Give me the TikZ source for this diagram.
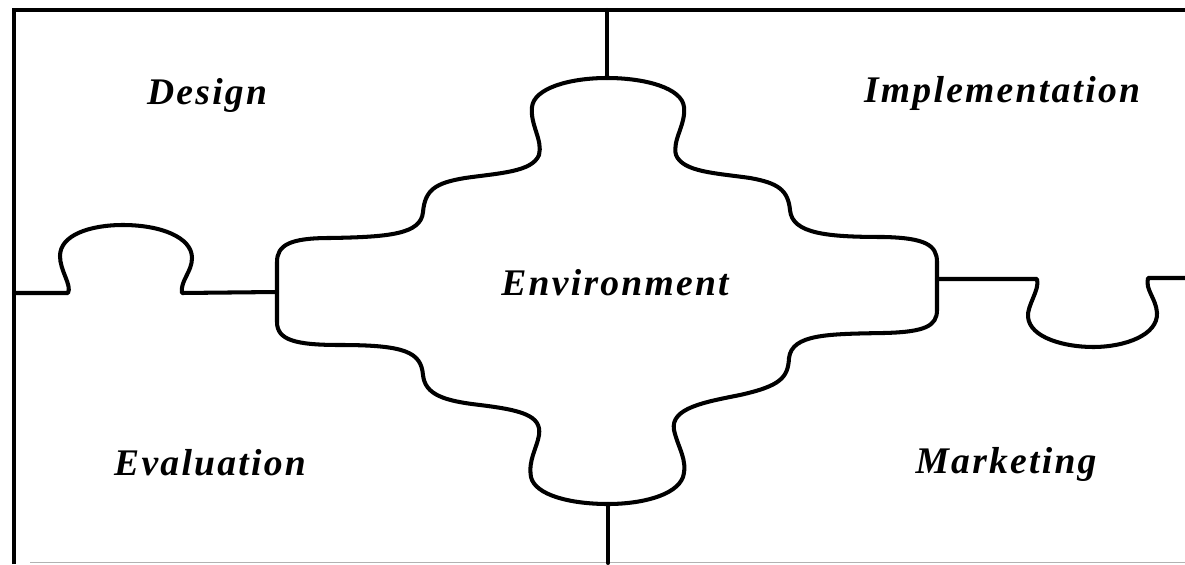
\documentclass[tikz,border=0pt]{standalone}
\usepackage{fontspec}
\setmainfont{Liberation Serif}
\newfontfamily\puzzlefont[LetterSpace=6]{Liberation Serif}
\begin{document}
\begin{tikzpicture}[x=0.02cm,y=-0.02cm,
  edge/.style={line width=2.3pt, line join=round, line cap=round},
  frame/.style={line width=2.5pt},
  word/.style={font=\puzzlefont\bfseries\itshape\fontsize{21.4}{24}\selectfont, anchor=base, inner sep=0pt}]
\useasboundingbox (0,0) rectangle (1185,564);
% frame
\draw[frame] (14,564) -- (14,10) -- (1185,10);
\draw[gray!60, line width=0.8pt] (30,562.5) -- (1185,562.5);
% middle verticals
\coordinate (topmid) at (607,10);
\coordinate (envtop) at (607,78);
\coordinate (botmid) at (608,563);
\coordinate (envbot) at (608,504);
\draw[edge] (topmid) -- (envtop);
\draw[edge] (envbot) -- (botmid);
% left piece boundary with knob
\coordinate (lstart) at (14,293);
\coordinate (envleft) at (277,292);
\draw[edge] (lstart) -- (68,293)
  .. controls (72,285) and (60,271) .. (60,256)
  .. controls (60,235) and (90,225) .. (123,225)
  .. controls (160,225) and (192,237) .. (192,258)
  .. controls (192,272) and (180,281) .. (182,293) -- (envleft);
% right piece boundary with knob
\coordinate (envright) at (937,279);
\coordinate (rend) at (1185,278);
\draw[edge] (envright) -- (1037,279)
  .. controls (1040,290) and (1027,305) .. (1028,317)
  .. controls (1030,338) and (1065,347) .. (1093,347)
  .. controls (1125,347) and (1158,335) .. (1157,313)
  .. controls (1156,298) and (1145,290) .. (1148,278) -- (rend);
% environment piece
\draw[edge] (277,292) -- (277,262)
  .. controls (277,245) and (290,238) .. (330,238)
  .. controls (390,237) and (421,234) .. (423,212)
  .. controls (425,190) and (435,183) .. (465,178)
  .. controls (500,173) and (532,172) .. (539,155)
  .. controls (543,140) and (530,125) .. (532,107)
  .. controls (534,88) and (570,78) .. (607,78)
  .. controls (645,78) and (682,88) .. (684,107)
  .. controls (686,125) and (672,140) .. (676,155)
  .. controls (683,172) and (715,173) .. (750,178)
  .. controls (778,183) and (788,190) .. (790,210)
  .. controls (792,234) and (828,237) .. (884,237)
  .. controls (925,238) and (937,245) .. (937,262)
  -- (937,310)
  .. controls (937,326) and (925,332) .. (884,333)
  .. controls (828,334) and (792,334) .. (789,358)
  .. controls (788,378) and (780,386) .. (740,395)
  .. controls (705,402) and (670,408) .. (674,430)
  .. controls (678,448) and (688,460) .. (683,477)
  .. controls (676,496) and (640,504) .. (608,504)
  .. controls (570,504) and (535,495) .. (531,477)
  .. controls (528,460) and (537,448) .. (539,435)
  .. controls (542,415) and (520,410) .. (480,405)
  .. controls (445,401) and (425,395) .. (423,375)
  .. controls (421,352) and (405,345) .. (340,345)
  .. controls (295,345) and (277,340) .. (277,322) -- cycle;
% labels
\node[word] (design) at (207,105) {Design};
\node[word] (impl) at (1002,103) {Implementation};
\node[word] (env) at (615,295) {Environment};
\node[word] (eval) at (210,475) {Evaluation};
\node[word] (mkt) at (1006,473) {Marketing};
\end{tikzpicture}
\end{document}
